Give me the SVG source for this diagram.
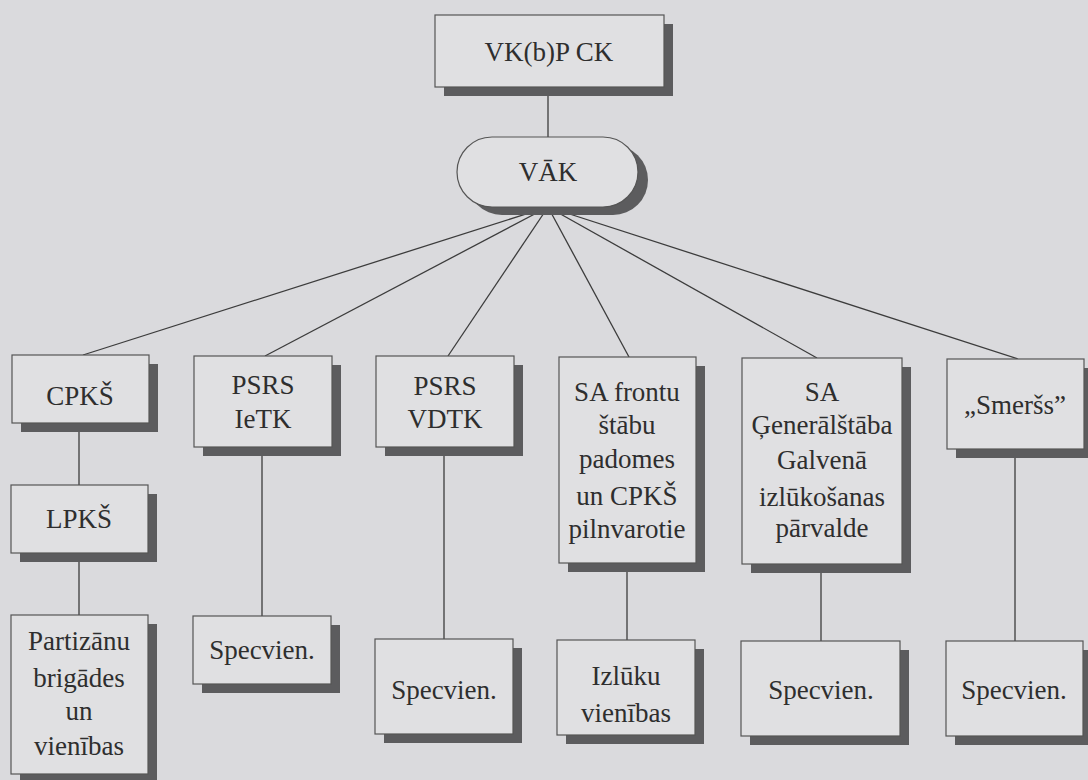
<svg xmlns="http://www.w3.org/2000/svg" width="1088" height="780" viewBox="0 0 1088 780">
<style>
.bg{fill:#dadadd}
.box{fill:#e0e0e2;stroke:#555;stroke-width:1.2}
.sh{fill:#5c5c5e}
.ln{stroke:#3c3c3c;stroke-width:1.3;fill:none}
</style>
<rect class="bg" x="0" y="0" width="1088" height="780"/>
<g id="connectors">
<line class="ln" x1="548" y1="87" x2="548" y2="137"/>
<line class="ln" x1="548" y1="207" x2="83" y2="355"/>
<line class="ln" x1="548" y1="207" x2="265" y2="356"/>
<line class="ln" x1="548" y1="207" x2="448" y2="356"/>
<line class="ln" x1="548" y1="207" x2="629" y2="357"/>
<line class="ln" x1="548" y1="207" x2="817" y2="358"/>
<line class="ln" x1="548" y1="207" x2="1018" y2="359"/>
<line class="ln" x1="79" y1="423" x2="79" y2="485"/>
<line class="ln" x1="79" y1="553" x2="79" y2="615"/>
<line class="ln" x1="262" y1="447" x2="262" y2="616"/>
<line class="ln" x1="444" y1="447" x2="444" y2="639"/>
<line class="ln" x1="627" y1="563" x2="627" y2="640"/>
<line class="ln" x1="821" y1="564" x2="821" y2="641"/>
<line class="ln" x1="1015" y1="449" x2="1015" y2="641"/>
</g>
<g font-family="Liberation Serif, serif" font-size="27" fill="#2e2e2e" text-anchor="middle">
<g id="vkbp">
<rect class="sh" x="444" y="24" width="229" height="72"/>
<rect class="box" x="435" y="15" width="229" height="72"/>
<text x="549" y="61">VK(b)P CK</text>
</g>
<g id="vak">
<rect class="sh" x="467" y="145" width="181" height="70" rx="35"/>
<rect class="box" x="457" y="137" width="181" height="70" rx="35"/>
<text x="548" y="181">VĀK</text>
</g>
<g id="cpks">
<rect class="sh" x="21" y="364" width="137" height="68"/>
<rect class="box" x="12" y="355" width="137" height="68"/>
<text x="80" y="405">CPKŠ</text>
</g>
<g id="ietk">
<rect class="sh" x="203" y="365" width="138" height="91"/>
<rect class="box" x="194" y="356" width="138" height="91"/>
<text x="263" y="394">PSRS</text>
<text x="263" y="428">IeTK</text>
</g>
<g id="vdtk">
<rect class="sh" x="385" y="365" width="138" height="91"/>
<rect class="box" x="376" y="356" width="138" height="91"/>
<text x="445" y="395">PSRS</text>
<text x="445" y="428">VDTK</text>
</g>
<g id="safrontu">
<rect class="sh" x="568" y="366" width="137" height="206"/>
<rect class="box" x="559" y="357" width="137" height="206"/>
<text x="627" y="401">SA frontu</text>
<text x="627" y="434">štābu</text>
<text x="627" y="468">padomes</text>
<text x="627" y="505">un CPKŠ</text>
<text x="627" y="538">pilnvarotie</text>
</g>
<g id="sagen">
<rect class="sh" x="751" y="367" width="160" height="206"/>
<rect class="box" x="742" y="358" width="160" height="206"/>
<text x="822" y="401">SA</text>
<text x="822" y="434">Ģenerālštāba</text>
<text x="822" y="469">Galvenā</text>
<text x="822" y="506">izlūkošanas</text>
<text x="822" y="537">pārvalde</text>
</g>
<g id="smerss">
<rect class="sh" x="956" y="368" width="137" height="90"/>
<rect class="box" x="947" y="359" width="137" height="90"/>
<text x="1015" y="414">„Smeršs”</text>
</g>
<g id="lpks">
<rect class="sh" x="20" y="494" width="137" height="68"/>
<rect class="box" x="11" y="485" width="137" height="68"/>
<text x="79" y="528">LPKŠ</text>
</g>
<g id="partizanu">
<rect class="sh" x="20" y="624" width="137" height="165"/>
<rect class="box" x="11" y="615" width="137" height="159"/>
<text x="79" y="650">Partizānu</text>
<text x="79" y="687">brigādes</text>
<text x="79" y="720">un</text>
<text x="79" y="755">vienības</text>
</g>
<g id="spec1">
<rect class="sh" x="202" y="625" width="138" height="68"/>
<rect class="box" x="193" y="616" width="138" height="68"/>
<text x="262" y="659">Specvien.</text>
</g>
<g id="spec2">
<rect class="sh" x="384" y="648" width="138" height="95"/>
<rect class="box" x="375" y="639" width="138" height="95"/>
<text x="444" y="699">Specvien.</text>
</g>
<g id="izluku">
<rect class="sh" x="566" y="649" width="138" height="95"/>
<rect class="box" x="557" y="640" width="138" height="95"/>
<text x="626" y="685">Izlūku</text>
<text x="626" y="722">vienības</text>
</g>
<g id="spec3">
<rect class="sh" x="750" y="650" width="159" height="95"/>
<rect class="box" x="741" y="641" width="159" height="95"/>
<text x="821" y="699">Specvien.</text>
</g>
<g id="spec4">
<rect class="sh" x="955" y="650" width="137" height="95"/>
<rect class="box" x="946" y="641" width="137" height="95"/>
<text x="1014" y="699">Specvien.</text>
</g>
</g>
</svg>
